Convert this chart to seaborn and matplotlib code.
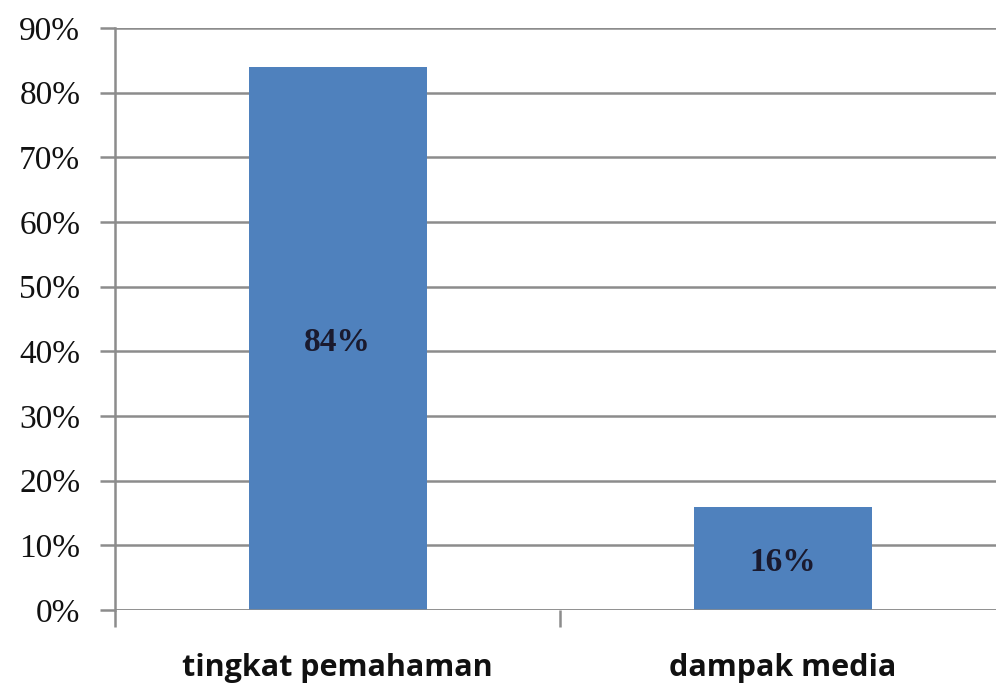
import matplotlib
matplotlib.use("Agg")
import matplotlib.pyplot as plt
import seaborn as sns
import pandas as pd
from matplotlib.ticker import FuncFormatter

categories = ["tingkat pemahaman", "dampak media"]
values = [84, 16]
value_labels = ["84%", "16%"]
yticks = [0, 10, 20, 30, 40, 50, 60, 70, 80, 90]

sns.set_style("white")
df = pd.DataFrame({"cat": categories, "val": values})

fig = plt.figure(figsize=(9.96, 6.87), dpi=100)
ax = fig.add_axes([115/996, 77/687, 890/996, 582/687])

sns.barplot(data=df, x="cat", y="val", color="#4F81BD", saturation=1,
            width=0.4, ax=ax, zorder=3)
for p in ax.patches:
    p.set_edgecolor("none")

ax.set_ylim(0, 90)
ax.set_xlim(-0.5, 1.5)
ax.set_yticks(yticks)
ax.yaxis.set_major_formatter(FuncFormatter(lambda v, _: f"{int(v)}%"))
ax.grid(axis="y", color="#8c8c8c", linewidth=1.8, zorder=0)
ax.grid(axis="x", visible=False)
ax.set_axisbelow(True)

for s in ["top", "right", "bottom"]:
    ax.spines[s].set_visible(False)
ax.spines["left"].set_color("#8c8c8c")
ax.spines["left"].set_linewidth(1.8)

ax.tick_params(axis="y", which="major", direction="out", length=11, width=1.8,
               color="#8c8c8c", left=True, pad=14)
for lbl in ax.get_yticklabels():
    lbl.set_fontfamily("Liberation Serif")
    lbl.set_fontsize(24)
    lbl.set_color("#111111")

# category labels
ax.set_xticks([0, 1])
ax.set_xticklabels(categories, fontfamily="Open Sans", fontweight="bold",
                   fontsize=22, color="#111111")
ax.tick_params(axis="x", length=0, pad=31)
# minor ticks at category boundaries
ax.set_xticks([-0.5, 0.5], minor=True)
ax.tick_params(axis="x", which="minor", direction="out", length=12, width=1.8,
               color="#8c8c8c", bottom=True)

ax.axhline(0, color="#8c8c8c", linewidth=1.8, zorder=4)

for i, (v, t) in enumerate(zip(values, value_labels)):
    ax.text(i, v / 2 - 0.6, t, ha="center", va="center", fontfamily="Liberation Serif",
            fontweight="bold", fontsize=24, color="#1a1a2e", zorder=5)

ax.set_xlabel("")
ax.set_ylabel("")
fig.savefig("out.png", dpi=100)
